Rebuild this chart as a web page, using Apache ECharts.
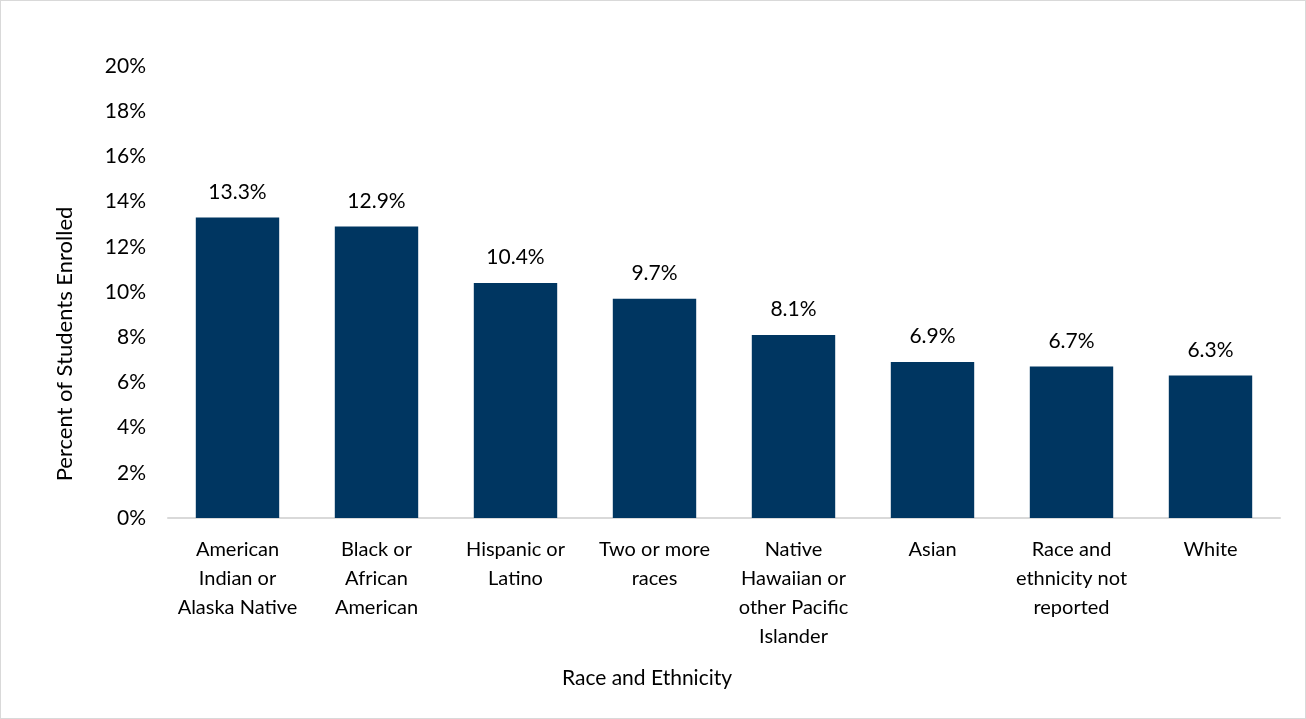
<!DOCTYPE html>
<html><head><meta charset="utf-8">
<script src="https://cdn.jsdelivr.net/npm/echarts@6/dist/echarts.min.js"></script>
<style>html,body{margin:0;padding:0;background:#fff}#c{width:1306px;height:719px;box-sizing:border-box;border:1px solid #d9d9d9}</style>
</head><body><div id="c"></div>
<script>
const categories = ["American\nIndian or\nAlaska Native","Black or\nAfrican\nAmerican","Hispanic or\nLatino","Two or more\nraces","Native\nHawaiian or\nother Pacific\nIslander","Asian","Race and\nethnicity not\nreported","White"];
const values = [13.3,12.9,10.4,9.7,8.1,6.9,6.7,6.3];
const yTicks = [0,2,4,6,8,10,12,14,16,18,20];
const xTitle = "Race and Ethnicity";
const yTitle = "Percent of Students Enrolled";
const font = "Lato, 'Open Sans', sans-serif";
const chart = echarts.init(document.getElementById('c'));
chart.setOption({
  animation:false,
  grid:{left:167,right:25,top:65,bottom:200},
  xAxis:{type:'category',data:categories,
    axisLine:{lineStyle:{color:'#d9d9d9',width:2}},axisTick:{show:false},
    axisLabel:{color:'#000',fontSize:20,fontFamily:font,lineHeight:29,margin:17,interval:0,verticalAlign:'top'}},
  yAxis:{type:'value',min:yTicks[0],max:yTicks[yTicks.length-1],interval:2,
    splitLine:{show:false},axisLine:{show:false},axisTick:{show:false},
    axisLabel:{color:'#000',fontSize:21,fontFamily:font,margin:22,formatter:v=>v+'%'}},
  graphic:[
    {type:'text',x:646,y:677,style:{text:xTitle,fill:'#000',font:'21px '+font,align:'center',verticalAlign:'middle'}},
    {type:'text',x:64,y:343,rotation:Math.PI/2,style:{text:yTitle,fill:'#000',font:'22px '+font,align:'center',verticalAlign:'middle'}}
  ],
  series:[{type:'bar',data:values,barCategoryGap:'40%',itemStyle:{color:'#003661'},
    label:{show:true,position:'top',distance:15,color:'#000',fontSize:21,fontFamily:font,formatter:p=>p.value.toFixed(1)+'%'}}]
});
</script></body></html>
